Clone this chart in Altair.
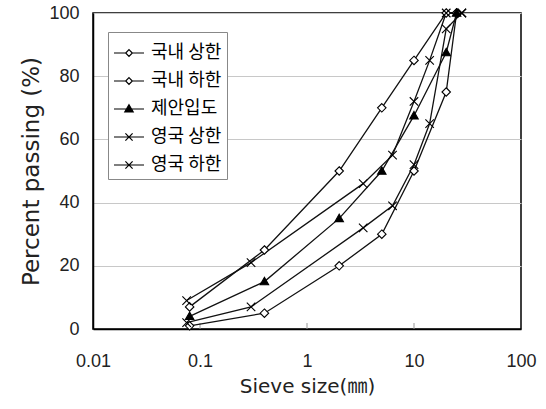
import altair as alt
import pandas as pd

# Sieve sizes (mm) and percent passing for each gradation band
sieve_kr = [0.08, 0.4, 2, 5, 10, 20, 25]
kr_upper = [7, 25, 50, 70, 85, 100, 100]
kr_lower = [1, 5, 20, 30, 50, 75, 100]
proposed = [4, 15, 35, 50, 67.5, 87.5, 100]

sieve_uk = [0.075, 0.3, 3.35, 6.3, 10, 14, 20, 28]
uk_upper = [9, 21, 46, 55, 72, 85, 100, 100]
uk_lower = [2, 7, 32, 39, 52, 65, 95, 100]

series_names = ["국내 상한", "국내 하한", "제안입도", "영국 상한", "영국 하한"]
x_ticks = [0.01, 0.1, 1, 10, 100]
y_ticks = [0, 20, 40, 60, 80, 100]

rows = []
for name, sizes, vals in [
    (series_names[0], sieve_kr, kr_upper),
    (series_names[1], sieve_kr, kr_lower),
    (series_names[2], sieve_kr, proposed),
    (series_names[3], sieve_uk, uk_upper),
    (series_names[4], sieve_uk, uk_lower),
]:
    for s, v in zip(sizes, vals):
        rows.append({"series": name, "sieve": s, "passing": v})
df = pd.DataFrame(rows)

W, H = 428, 316
FONT = "Liberation Sans, Noto Sans CJK KR"
TFONT = "DejaVu Sans, Noto Sans CJK KR"
KFONT = "Noto Sans CJK KR"

# marker shapes (unit square paths)
DIAMOND = "M0,-1L1,0L0,1L-1,0Z"
TRIANGLE = "M0,-1L1,0.75L-1,0.75Z"
CROSS = "M-1,-1L1,1M-1,1L1,-1"

# legend symbols: a short line with the marker in the middle
LEG_DIAMOND = "M-1,0L-0.22,0M0.22,0L1,0M0,-0.22L0.22,0L0,0.22L-0.22,0Z"
LEG_TRI = "M-1,0L1,0M0,-0.28L0.28,0.2L-0.28,0.2Z"
LEG_CROSS = "M-1,0L1,0M-0.24,-0.24L0.24,0.24M-0.24,0.24L0.24,-0.24"

shapes = [DIAMOND, DIAMOND, TRIANGLE, CROSS, CROSS]
leg_shapes = [LEG_DIAMOND, LEG_DIAMOND, LEG_TRI, LEG_CROSS, LEG_CROSS]
fills = ["white", "white", "black", "transparent", "transparent"]
strokes = ["black"] * len(series_names)

x_enc = alt.X(
    "sieve:Q",
    scale=alt.Scale(type="log", domain=[x_ticks[0], x_ticks[-1]]),
    axis=alt.Axis(
        values=x_ticks, format="~g", title="Sieve size(㎜)", grid=False,
        ticks=False, tickSize=0, labelPadding=23, titlePadding=6,
        labelFlush=False, titleFont=TFONT, titleFontSize=20,
    ),
)
y_enc = alt.Y(
    "passing:Q",
    scale=alt.Scale(domain=[0, 100], nice=False),
    axis=alt.Axis(
        values=y_ticks, title="Percent passing (%)", grid=True,
        ticks=False, tickSize=0, labelPadding=14, titlePadding=5,
        titleFont=TFONT, titleFontSize=23,
    ),
)

lines = alt.Chart(df).mark_line(color="#111111", strokeWidth=1.3).encode(
    x=x_enc, y=y_enc, detail="series:N", order="sieve:Q"
)

points = alt.Chart(df).mark_point(
    filled=True, opacity=1, stroke="black", strokeWidth=1.1, size=72
).encode(
    x=x_enc,
    y=y_enc,
    shape=alt.Shape(
        "series:N",
        scale=alt.Scale(domain=series_names, range=shapes),
        legend=None,
    ),
    fill=alt.Fill(
        "series:N",
        scale=alt.Scale(domain=series_names, range=fills),
        legend=None,
    ),
)

legend_def = alt.Legend(
    title=None, orient="none", legendX=15, legendY=19,
    symbolSize=900, symbolStrokeWidth=1.2,
    symbolOpacity=1, labelFont=KFONT, labelFontSize=18, labelColor="black",
    labelOffset=6, strokeColor="#888888", fillColor="white",
    padding=5, rowPadding=3,
)

legend_layer = alt.Chart(df).transform_filter("false").mark_point(
    filled=True, opacity=1, strokeWidth=1.2
).encode(
    x=x_enc,
    y=y_enc,
    shape=alt.Shape(
        "series:N",
        scale=alt.Scale(domain=series_names, range=leg_shapes),
        legend=legend_def,
    ),
    fill=alt.Fill(
        "series:N",
        scale=alt.Scale(domain=series_names, range=fills),
        legend=legend_def,
    ),
    stroke=alt.Stroke(
        "series:N",
        scale=alt.Scale(domain=series_names, range=strokes),
        legend=legend_def,
    ),
)

# short inward tick marks on the x axis at the inner decades
tick_df = pd.DataFrame({"sieve": x_ticks[1:-1]})
inner_ticks = alt.Chart(tick_df).mark_rule(color="#999999", strokeWidth=1).encode(
    x=x_enc, y=alt.value(H), y2=alt.value(H - 6)
)

chart = (
    alt.layer(inner_ticks, lines, points, legend_layer)
    .resolve_scale(shape="independent", fill="independent", stroke="independent")
    .properties(
        width=W, height=H,
        autosize=alt.AutoSizeParams(type="none"),
        padding={"left": 93, "top": 13, "right": 25, "bottom": 80},
        background="white",
    )
    .configure_view(stroke="black", strokeWidth=1.5)
    .configure_axis(
        domainColor="black", domainWidth=1.5,
        gridColor="#c8c8c8", gridWidth=1,
        labelFont=FONT, labelFontSize=18, labelColor="#222222",
        titleColor="#222222", titleFontWeight="normal",
    )
)

chart.save("out.html", embed_options={"renderer": "svg", "actions": False})
